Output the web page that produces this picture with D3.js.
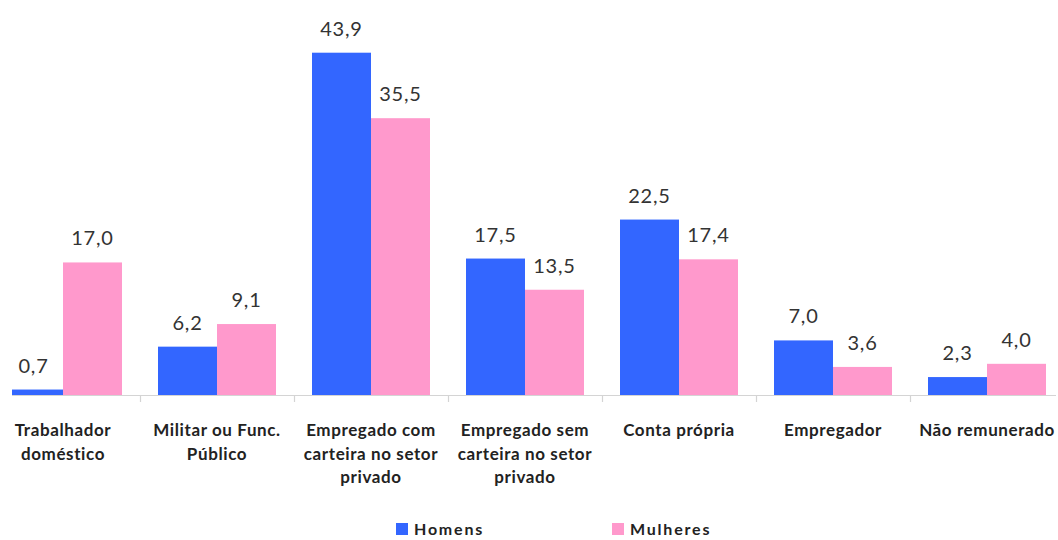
<!DOCTYPE html>
<html>
<head>
<meta charset="utf-8">
<script src="https://cdn.jsdelivr.net/npm/d3@7"></script>
<style>
  html, body { margin: 0; padding: 0; background: #fff; }
  svg { display: block; }
</style>
</head>
<body>
<svg id="chart" width="1058" height="540"></svg>
<script>
// Ocupação por posição na ocupação, segundo o sexo (%)
const categories = [
  "Trabalhador doméstico",
  "Militar ou Func. Público",
  "Empregado com carteira no setor privado",
  "Empregado sem carteira no setor privado",
  "Conta própria",
  "Empregador",
  "Não remunerado"
];
// wrapped lines for the axis labels
const categoryLines = [
  ["Trabalhador", "doméstico"],
  ["Militar ou Func.", "Público"],
  ["Empregado com", "carteira no setor", "privado"],
  ["Empregado sem", "carteira no setor", "privado"],
  ["Conta própria"],
  ["Empregador"],
  ["Não remunerado"]
];
const seriesNames = ["Homens", "Mulheres"];
const homens   = [0.7, 6.2, 43.9, 17.5, 22.5, 7.0, 2.3];
const mulheres = [17.0, 9.1, 35.5, 13.5, 17.4, 3.6, 4.0];
const colors = ["#3366FF", "#FF99CC"];

const svg = d3.select("#chart");
const baseline = 395;
const fmt = v => v.toFixed(1).replace(".", ",");
const font = "Lato, 'Open Sans', sans-serif";

const x = d3.scaleBand()
  .domain(categories)
  .range([-14, 1064])
  .paddingInner(0)
  .paddingOuter(0);

const inner = d3.scaleBand()
  .domain(seriesNames)
  .range([18, x.bandwidth() - 18]);

const y = d3.scaleLinear()
  .domain([0, 43.9])
  .range([baseline, 52.7]);

svg.append("defs").append("clipPath").attr("id", "plotclip")
  .append("rect").attr("x", 12).attr("y", 0).attr("width", 1044).attr("height", 540);

// category axis
const axisG = svg.append("g").attr("clip-path", "url(#plotclip)");
axisG.append("line")
  .attr("x1", 12).attr("x2", 1056)
  .attr("y1", baseline + 0.5).attr("y2", baseline + 0.5)
  .attr("stroke", "#d4d4d4").attr("stroke-width", 1.2);
const boundaries = categories.slice(1).map(c => x(c));
axisG.selectAll("line.tick").data(boundaries).join("line")
  .attr("class", "tick")
  .attr("x1", d => Math.round(d) + 0.5).attr("x2", d => Math.round(d) + 0.5)
  .attr("y1", baseline).attr("y2", baseline + 7)
  .attr("stroke", "#d4d4d4").attr("stroke-width", 1.2);

// bars
const data = [];
categories.forEach((c, i) => {
  data.push({ cat: c, s: seriesNames[0], v: homens[i], color: colors[0] });
  data.push({ cat: c, s: seriesNames[1], v: mulheres[i], color: colors[1] });
});

const barsG = svg.append("g").attr("clip-path", "url(#plotclip)");
barsG.selectAll("rect").data(data).join("rect")
  .attr("x", d => x(d.cat) + inner(d.s))
  .attr("width", inner.bandwidth())
  .attr("y", d => y(d.v))
  .attr("height", d => baseline - y(d.v))
  .attr("fill", d => d.color);

// value labels
svg.append("g").selectAll("text").data(data).join("text")
  .attr("x", d => x(d.cat) + inner(d.s) + inner.bandwidth() / 2)
  .attr("y", d => y(d.v) - 17)
  .attr("text-anchor", "middle")
  .attr("font-family", font)
  .attr("font-size", 20)
  .attr("letter-spacing", 0.8)
  .attr("fill", "#333")
  .text(d => fmt(d.v));

// category labels
const catG = svg.append("g");
categories.forEach((c, i) => {
  const cx = x(c) + x.bandwidth() / 2;
  const t = catG.append("text")
    .attr("x", cx)
    .attr("y", 436)
    .attr("text-anchor", "middle")
    .attr("font-family", font)
    .attr("font-size", 17)
    .attr("font-weight", "bold")
    .attr("letter-spacing", 0.6)
    .attr("fill", "#222");
  categoryLines[i].forEach((line, j) => {
    t.append("tspan")
      .attr("x", cx)
      .attr("dy", j === 0 ? 0 : 23.5)
      .text(line);
  });
});

// legend
const legendX = [396, 612];
const legend = svg.append("g");
seriesNames.forEach((s, i) => {
  legend.append("rect")
    .attr("x", legendX[i]).attr("y", 523)
    .attr("width", 12).attr("height", 12)
    .attr("fill", colors[i]);
  legend.append("text")
    .attr("x", legendX[i] + 18).attr("y", 535)
    .attr("font-family", font)
    .attr("font-size", 16)
    .attr("font-weight", "bold")
    .attr("letter-spacing", 1.8)
    .attr("fill", "#222")
    .text(s);
});
</script>
</body>
</html>
